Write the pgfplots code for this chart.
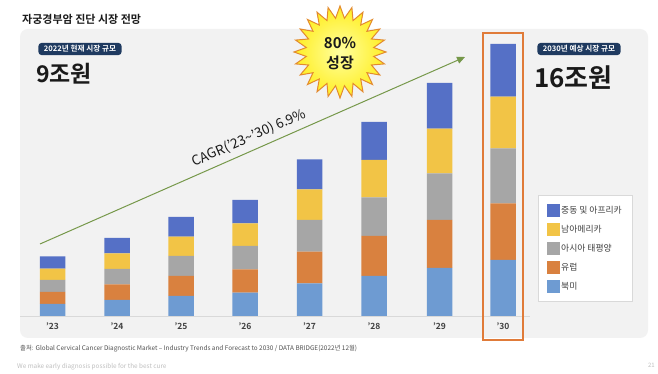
\documentclass[border=0pt]{standalone}
\usepackage{fontspec}
\setmainfont{Noto Sans CJK KR}[BoldFont={Noto Sans CJK KR Bold}]
\usepackage{pgfplots}
\usepackage{pgfplotstable}
\pgfplotsset{compat=1.18}
\usetikzlibrary{arrows.meta}

\definecolor{cDb}{HTML}{5570C6}
\definecolor{cYe}{HTML}{F2C446}
\definecolor{cGr}{HTML}{A6A6A6}
\definecolor{cOr}{HTML}{D9813F}
\definecolor{cLb}{HTML}{6E9BD2}
\definecolor{panel}{HTML}{F2F2F2}
\definecolor{navy}{HTML}{1F3A60}
\definecolor{hilite}{HTML}{E07B39}
\definecolor{arrowgreen}{HTML}{76984A}
\definecolor{starorange}{HTML}{E38A2E}
\definecolor{starin}{HTML}{FFFFA0}
\definecolor{starout}{HTML}{FFEE22}
\definecolor{txtdark}{HTML}{1A1A1A}
\definecolor{txtgray}{HTML}{404040}
\definecolor{footgray}{HTML}{505050}
\definecolor{lightfoot}{HTML}{BFBFBF}
\definecolor{legbord}{HTML}{D9D9D9}

\pgfplotstableread{
x lb or gr ye db
52.5 12 12 12 11.3 12.3
117 16 15.6 15.4 15.5 15.7
181 20 20 20 19.3 19.7
245 23.3 23.4 23.3 22.7 23.3
309.5 32.7 31.6 31.7 30.7 30
374 40 40 38.7 37.3 38
439.5 48 48 46.7 44.6 45.7
503 56 56.7 55 51.7 52.7
}\datatable

\begin{document}
\begin{tikzpicture}[x=1pt,y=1pt]
\path[fill=white] (0,0) rectangle (658,374);
% panel
\fill[panel, rounded corners=8pt] (20,36) rectangle (648,345);
% title
\node[anchor=west, font=\bfseries\fontsize{11}{13}\selectfont, text=txtdark, inner sep=0pt] at (22,355) {자궁경부암 진단 시장 전망};

\begin{axis}[
  at={(20,58)}, anchor=south west,
  scale only axis, width=510pt, height=290pt,
  xmin=20, xmax=530, ymin=0, ymax=290,
  ybar stacked, bar width=25.5pt,
  axis x line*=bottom, axis y line=none,
  x axis line style={draw=legbord, line width=0.6pt, -},
  xtick={52.5,117,181,245,309.5,374,439.5,503},
  xticklabels={’23,’24,’25,’26,’27,’28,’29,’30},
  major tick length=0pt,
  xticklabel style={font=\bfseries\fontsize{8.5}{10}\selectfont, text=txtgray, yshift=-3pt},
  ytick=\empty,
  clip=false,
  reverse legend,
  legend cell align=left,
  legend image code/.code={\fill[#1] (0pt,-6.5pt) rectangle (13pt,6.5pt);},
  legend style={at={(1.0157,0.4172)}, anchor=north west, draw=legbord, fill=white,
    font=\fontsize{8.8}{10}\selectfont, text=txtgray,
    inner xsep=9pt, inner ysep=8.5pt, row sep=6pt,
    nodes={inner sep=1pt},
    /tikz/every even column/.append style={column sep=5pt}},
]
\addplot[fill=cLb, draw=none] table[x=x,y=lb]{\datatable};
\addplot[fill=cOr, draw=none] table[x=x,y=or]{\datatable};
\addplot[fill=cGr, draw=none] table[x=x,y=gr]{\datatable};
\addplot[fill=cYe, draw=none] table[x=x,y=ye]{\datatable};
\addplot[fill=cDb, draw=none] table[x=x,y=db]{\datatable};
\legend{북미,유럽,아시아 태평양,남아메리카,중동 및 아프리카}
\end{axis}

% highlight box
\draw[hilite, line width=1.4pt] (483,34) rectangle (523,341);

% labels
\node[fill=navy, rounded corners=3pt, text=white, font=\bfseries\fontsize{7.6}{8}\selectfont, inner xsep=5.5pt, inner ysep=2.5pt] at (80,325) {2022년 현재 시장 규모};
\node[font=\bfseries\fontsize{23}{25}\selectfont, text=txtdark, anchor=west, inner sep=0pt] at (36,300) {9조원};
\node[fill=navy, rounded corners=3pt, text=white, font=\bfseries\fontsize{7.6}{8}\selectfont, inner xsep=5.5pt, inner ysep=2.5pt] at (579,325) {2030년 예상 시장 규모};
\node[font=\bfseries\fontsize{26}{28}\selectfont, text=txtdark, anchor=west, inner sep=0pt] at (534,296) {16조원};

% CAGR arrow
\draw[arrowgreen, line width=1pt, -{Triangle[length=8pt,width=7pt]}] (40,130) -- (465,317);
\node[rotate=23.7, font=\fontsize{13.5}{15}\selectfont, text=txtdark] at (249,236) {CAGR(’23\textasciitilde’30) 6.9\%};

% starburst
\draw[line width=1pt, draw=starorange, inner color=starin, outer color=starout]
  plot[samples at={0,...,47}, variable=\k] ({340+(46-12*mod(\k,2))*cos(90+7.5*\k)}, {322+(46-12*mod(\k,2))*sin(90+7.5*\k)}) -- cycle;
\node[align=center, font=\bfseries\fontsize{15}{20}\selectfont, text=txtdark] at (340,320) {80\%\\성장};

% footer
\node[anchor=west, font=\fontsize{6.4}{7}\selectfont, text=footgray, inner sep=0pt] at (20,25) {출처: Global Cervical Cancer Diagnostic Market – Industry Trends and Forecast to 2030 / DATA BRIDGE(2022년 12월)};
\node[anchor=west, font=\fontsize{6.4}{7}\selectfont, text=lightfoot, inner sep=0pt] at (17,7) {We make early diagnosis possible for the best cure};
\node[anchor=east, font=\fontsize{6}{7}\selectfont, text=lightfoot, inner sep=0pt] at (655,9) {21};
\end{tikzpicture}
\end{document}
